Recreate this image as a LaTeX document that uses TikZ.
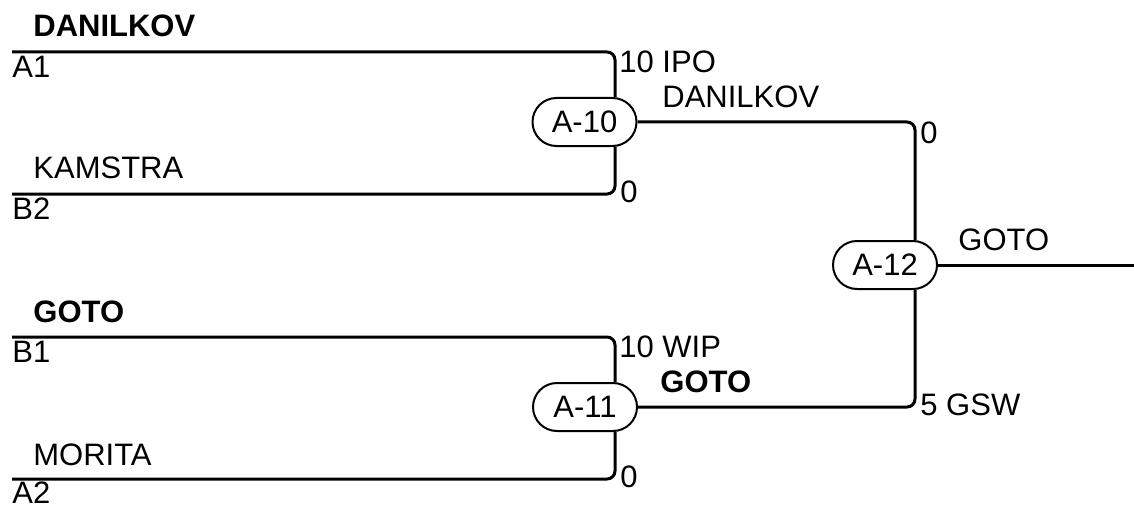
\documentclass[tikz,border=0pt]{standalone}
\usepackage{fontspec}
\setmainfont{Liberation Sans}
\usetikzlibrary{shapes.misc}
\begin{document}
\begin{tikzpicture}[x=0.5pt,y=-0.5pt,
  conn/.style={line width=1.5pt,rounded corners=4pt},
  game/.style={rounded rectangle,draw,line width=1pt,minimum width=52pt,minimum height=24pt,inner sep=0pt,font=\fontsize{15.5}{18}\selectfont},
  lbl/.style={inner sep=0pt,anchor=base west,font=\fontsize{15.5}{18}\selectfont},
  blbl/.style={lbl,font=\fontsize{15.5}{18}\selectfont\bfseries}]
\useasboundingbox (0,0) rectangle (1134,508);
% games
\node[game] (A10) at (584.5,122) {A-10};
\node[game] (A11) at (585,407) {A-11};
\node[game] (A12) at (885,265) {A-12};
% free ends and junction columns
\coordinate (s1) at (12,52);
\coordinate (s2) at (12,194);
\coordinate (s3) at (12,337);
\coordinate (s4) at (12,479);
\coordinate (x1) at (615,0);
\coordinate (x2) at (915,0);
\coordinate (out) at (1134,265);
% connectors
\draw[conn] (s1) -| (A10.north -| x1);
\draw[conn] (s2) -| (A10.south -| x1);
\draw[conn] (s3) -| (A11.north -| x1);
\draw[conn] (s4) -| (A11.south -| x1);
\draw[conn] (A10.east) -| (A12.north -| x2);
\draw[conn] (A11.east) -| (A12.south -| x2);
\draw[conn] (A12.east) -- (out);
% left labels
\node[blbl] (n1) at (33,37) {DANILKOV};
\node[lbl] (t1) at (12,78) {A1};
\node[lbl] (n2) at (33,178) {KAMSTRA};
\node[lbl] (t2) at (12,219) {B2};
\node[blbl] (n3) at (33,322) {GOTO};
\node[lbl] (t3) at (12,362) {B1};
\node[lbl] (n4) at (33,465) {MORITA};
\node[lbl] (t4) at (12,503) {A2};
% scores
\node[lbl] (sc1) at (619,73) {10 IPO};
\node[lbl] (sc2) at (620,202) {0};
\node[lbl] (sc3) at (619,357) {10 WIP};
\node[lbl] (sc4) at (620,487) {0};
\node[lbl] (sc5) at (920,143) {0};
\node[lbl] (sc6) at (920,415) {5 GSW};
% winners
\node[lbl] (w1) at (662,107) {DANILKOV};
\node[blbl] (w2) at (660,392) {GOTO};
\node[lbl] (w3) at (958,250) {GOTO};
\end{tikzpicture}
\end{document}
